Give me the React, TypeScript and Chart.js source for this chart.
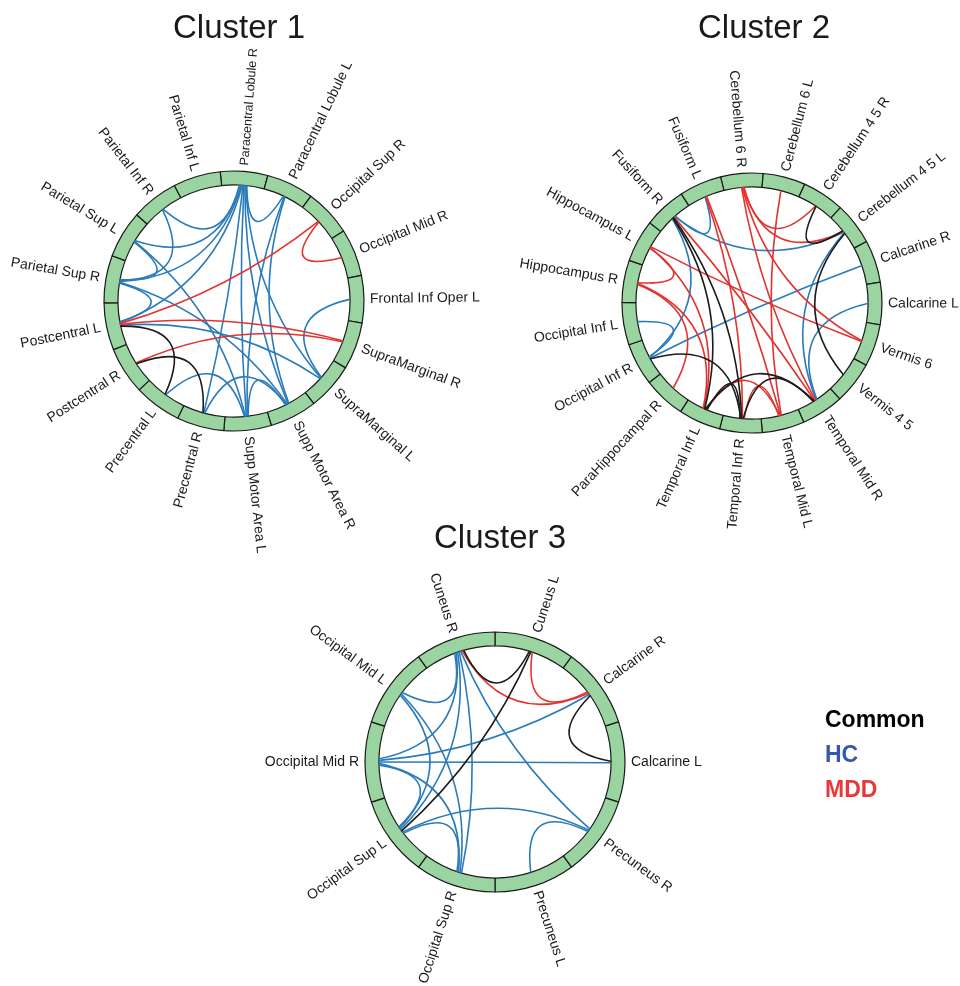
import React, { useEffect, useRef } from "react";
import { Chart, registerables } from "chart.js";

Chart.register(...registerables);

// ---------------- DATA ----------------
const cluster1Regions = [
  "Paracentral Lobule R", "Paracentral Lobule L", "Occipital Sup R", "Occipital Mid R",
  "Frontal Inf Oper L", "SupraMarginal R", "SupraMarginal L", "Supp Motor Area R",
  "Supp Motor Area L", "Precentral R", "Precentral L", "Postcentral R", "Postcentral L",
  "Parietal Sup R", "Parietal Sup L", "Parietal Inf R", "Parietal Inf L",
];
const cluster1Common = [
  ["Postcentral L", "Precentral L"],
  ["Postcentral R", "Precentral R"],
];
const cluster1HC = [
  ["Paracentral Lobule R", "Supp Motor Area L"],
  ["Paracentral Lobule R", "Supp Motor Area R"],
  ["Paracentral Lobule R", "Precentral R"],
  ["Paracentral Lobule R", "Parietal Sup R"],
  ["Paracentral Lobule R", "Parietal Sup L"],
  ["Paracentral Lobule R", "Parietal Inf R"],
  ["Paracentral Lobule R", "Postcentral L"],
  ["Paracentral Lobule R", "SupraMarginal L"],
  ["Paracentral Lobule R", "Paracentral Lobule L"],
  ["Paracentral Lobule L", "Supp Motor Area R"],
  ["Paracentral Lobule L", "Supp Motor Area L"],
  ["Parietal Inf R", "Parietal Sup R"],
  ["Parietal Sup L", "Parietal Sup R"],
  ["Parietal Sup L", "Supp Motor Area L"],
  ["Parietal Sup R", "Postcentral L"],
  ["Parietal Sup R", "Supp Motor Area R"],
  ["Postcentral L", "SupraMarginal L"],
  ["Frontal Inf Oper L", "SupraMarginal L"],
  ["Precentral L", "Supp Motor Area L"],
  ["Precentral R", "Supp Motor Area R"],
  ["Supp Motor Area L", "Supp Motor Area R"],
];
const cluster1MDD = [
  ["Occipital Sup R", "Occipital Mid R"],
  ["Occipital Sup R", "Postcentral L"],
  ["Postcentral L", "SupraMarginal R"],
  ["Postcentral R", "SupraMarginal R"],
];

const cluster2Regions = [
  "Cerebellum 6 R", "Cerebellum 6 L", "Cerebellum 4 5 R", "Cerebellum 4 5 L",
  "Calcarine R", "Calcarine L", "Vermis 6", "Vermis 4 5", "Temporal Mid R",
  "Temporal Mid L", "Temporal Inf R", "Temporal Inf L", "ParaHippocampal R",
  "Occipital Inf R", "Occipital Inf L", "Hippocampus R", "Hippocampus L",
  "Fusiform R", "Fusiform L",
];
const cluster2Common = [
  ["Fusiform R", "Temporal Inf R"],
  ["Fusiform R", "Temporal Inf L"],
  ["Cerebellum 4 5 R", "Cerebellum 4 5 L"],
  ["Cerebellum 4 5 L", "Vermis 4 5"],
  ["Occipital Inf R", "Temporal Inf R"],
  ["Temporal Inf L", "Temporal Mid R"],
  ["Temporal Inf R", "Temporal Mid R"],
  ["Temporal Inf L", "Temporal Inf R"],
];
const cluster2HC = [
  ["Fusiform R", "Fusiform L"],
  ["Fusiform R", "Cerebellum 4 5 L"],
  ["Occipital Inf R", "Calcarine R"],
  ["Occipital Inf L", "Occipital Inf R"],
  ["Fusiform R", "Occipital Inf R"],
  ["Cerebellum 4 5 L", "Temporal Mid R"],
  ["Calcarine L", "Temporal Mid R"],
];
const cluster2MDD = [
  ["Cerebellum 6 R", "Cerebellum 4 5 R"],
  ["Cerebellum 6 R", "Cerebellum 4 5 L"],
  ["Cerebellum 6 R", "Vermis 6"],
  ["Cerebellum 6 R", "Temporal Mid R"],
  ["Cerebellum 6 L", "Temporal Mid L"],
  ["Hippocampus L", "Vermis 6"],
  ["Fusiform R", "Temporal Mid R"],
  ["Fusiform L", "Temporal Inf R"],
  ["Fusiform L", "Temporal Mid L"],
  ["Hippocampus L", "Hippocampus R"],
  ["Hippocampus L", "Temporal Inf L"],
  ["Hippocampus R", "ParaHippocampal R"],
  ["Hippocampus R", "Temporal Inf L"],
  ["Temporal Inf L", "Temporal Mid L"],
  ["Temporal Inf R", "Temporal Mid L"],
];

const cluster3Regions = [
  "Cuneus L", "Calcarine R", "Calcarine L", "Precuneus R", "Precuneus L",
  "Occipital Sup R", "Occipital Sup L", "Occipital Mid R", "Occipital Mid L", "Cuneus R",
];
const cluster3Common = [
  ["Cuneus R", "Cuneus L"],
  ["Cuneus L", "Occipital Sup L"],
  ["Calcarine R", "Calcarine L"],
];
const cluster3HC = [
  ["Cuneus R", "Occipital Sup R"],
  ["Cuneus R", "Occipital Sup L"],
  ["Cuneus R", "Precuneus R"],
  ["Cuneus R", "Occipital Mid L"],
  ["Cuneus R", "Occipital Mid R"],
  ["Occipital Mid R", "Calcarine L"],
  ["Occipital Mid R", "Calcarine R"],
  ["Occipital Mid R", "Occipital Sup L"],
  ["Occipital Mid L", "Occipital Sup L"],
  ["Occipital Mid L", "Occipital Sup R"],
  ["Occipital Sup L", "Precuneus R"],
  ["Precuneus R", "Precuneus L"],
  ["Occipital Sup L", "Occipital Sup R"],
  ["Occipital Mid R", "Occipital Sup R"],
];
const cluster3MDD = [
  ["Cuneus R", "Calcarine R"],
  ["Cuneus L", "Calcarine R"],
];

const legendLabels = ["Common", "HC", "MDD"];

// ---------------- STYLE ----------------
const FONT = "'Liberation Sans', Arial, Helvetica, sans-serif";
const COLOR_COMMON = "#1c1c1c";
const COLOR_HC = "#2a7bbb";
const COLOR_MDD = "#e3322f";
const LEGEND_COLORS = ["#000000", "#3559a8", "#e8393a"];
const RING_FILL = "#99d4a1";
const PAGE_W = 960;
const PAGE_H = 986;
const SMALL_LABELS: Record<string, number> = { "Paracentral Lobule R": 12.5 };

type ClusterCfg = {
  title: string;
  regions: string[];
  common: string[][];
  hc: string[][];
  mdd: string[][];
  center: [number, number];
  rotation: number;
  titleOffset: [number, number];
  legend?: boolean;
};

const clusters: ClusterCfg[] = [
  { title: "Cluster 1", regions: cluster1Regions, common: cluster1Common, hc: cluster1HC, mdd: cluster1MDD,
    center: [234, 301], rotation: -6.1, titleOffset: [5, -263] },
  { title: "Cluster 2", regions: cluster2Regions, common: cluster2Common, hc: cluster2HC, mdd: cluster2MDD,
    center: [752, 303], rotation: -14, titleOffset: [12, -265] },
  { title: "Cluster 3", regions: cluster3Regions, common: cluster3Common, hc: cluster3HC, mdd: cluster3MDD,
    center: [495, 762], rotation: 0, titleOffset: [5, -214], legend: true },
];

function normAngle(a: number) {
  let x = a % (2 * Math.PI);
  if (x <= -Math.PI) x += 2 * Math.PI;
  if (x > Math.PI) x -= 2 * Math.PI;
  return x;
}

function makePlugin(cfg: ClusterCfg) {
  return {
    id: "chordLayer",
    afterDatasetsDraw(chart: any) {
      const ctx: CanvasRenderingContext2D = chart.ctx;
      const arcs = chart.getDatasetMeta(0).data as any[];
      const geo = arcs.map((a) =>
        a.getProps(["x", "y", "startAngle", "endAngle", "innerRadius", "outerRadius"], true)
      );
      const cx = geo[0].x;
      const cy = geo[0].y;
      const rIn = geo[0].innerRadius - 0.5;
      const rOut = geo[0].outerRadius;
      const mid = (i: number) => (geo[i].startAngle + geo[i].endAngle) / 2;
      const idx = (n: string) => cfg.regions.indexOf(n);

      const links: { a: number; b: number; color: string; pa: number; pb: number }[] = [];
      const groups: [string[][], string][] = [
        [cfg.hc, COLOR_HC],
        [cfg.mdd, COLOR_MDD],
        [cfg.common, COLOR_COMMON],
      ];
      groups.forEach(([list, color]) =>
        list.forEach(([s, t]) => links.push({ a: idx(s), b: idx(t), color, pa: 0, pb: 0 }))
      );

      // spread endpoints slightly within each segment
      const step = 0.022;
      cfg.regions.forEach((_, n) => {
        const ends: { k: number; side: "a" | "b"; delta: number }[] = [];
        links.forEach((l, k) => {
          if (l.a === n) ends.push({ k, side: "a", delta: ((mid(l.b) - mid(n)) % (2 * Math.PI) + 2 * Math.PI) % (2 * Math.PI) });
          if (l.b === n) ends.push({ k, side: "b", delta: ((mid(l.a) - mid(n)) % (2 * Math.PI) + 2 * Math.PI) % (2 * Math.PI) });
        });
        ends.sort((p, q) => p.delta - q.delta);
        const m = ends.length;
        ends.forEach((e, j) => {
          const frac = 0.5 + ((m - 1) / 2 - j) * step;
          const ang = geo[n].startAngle + frac * (geo[n].endAngle - geo[n].startAngle);
          if (e.side === "a") links[e.k].pa = ang;
          else links[e.k].pb = ang;
        });
      });

      ctx.save();
      ctx.lineWidth = 1.6;
      ctx.lineCap = "round";
      links.forEach((l) => {
        const ax = cx + rIn * Math.cos(l.pa);
        const ay = cy + rIn * Math.sin(l.pa);
        const bx = cx + rIn * Math.cos(l.pb);
        const by = cy + rIn * Math.sin(l.pb);
        const d = normAngle(l.pb - l.pa);
        const m = l.pa + d / 2;
        const h = 0.5 * rIn * (1 - Math.abs(d) / Math.PI);
        ctx.strokeStyle = l.color;
        ctx.beginPath();
        ctx.moveTo(ax, ay);
        ctx.quadraticCurveTo(cx + h * Math.cos(m), cy + h * Math.sin(m), bx, by);
        ctx.stroke();
      });
      ctx.restore();

      // labels
      ctx.save();
      ctx.fillStyle = "#1a1a1a";
      ctx.textBaseline = "middle";
      cfg.regions.forEach((name, i) => {
        const a = mid(i);
        const size = SMALL_LABELS[name] ?? 14;
        ctx.font = `${size}px ${FONT}`;
        ctx.save();
        ctx.translate(cx, cy);
        if (Math.cos(a) >= 0) {
          ctx.rotate(a);
          ctx.textAlign = "left";
          ctx.fillText(name, rOut + 6, 0);
        } else {
          ctx.rotate(a + Math.PI);
          ctx.textAlign = "right";
          ctx.fillText(name, -(rOut + 6), 0);
        }
        ctx.restore();
      });
      ctx.restore();

      // title
      ctx.save();
      ctx.fillStyle = "#1a1a1a";
      ctx.font = `33px ${FONT}`;
      ctx.textAlign = "center";
      ctx.textBaseline = "alphabetic";
      ctx.fillText(cfg.title, cx + cfg.titleOffset[0], cy + cfg.titleOffset[1]);
      ctx.restore();

      // legend
      if (cfg.legend) {
        ctx.save();
        ctx.font = `bold 23px ${FONT}`;
        ctx.textAlign = "left";
        ctx.textBaseline = "alphabetic";
        legendLabels.forEach((t, i) => {
          ctx.fillStyle = LEGEND_COLORS[i];
          ctx.fillText(t, cx + 330, cy - 35 + i * 35);
        });
        ctx.restore();
      }
    },
  };
}

function ClusterChart({ cfg }: { cfg: ClusterCfg }) {
  const ref = useRef<HTMLCanvasElement | null>(null);
  useEffect(() => {
    if (!ref.current) return;
    const [cx, cy] = cfg.center;
    const padLeft = Math.max(0, 2 * cx - PAGE_W);
    const padRight = Math.max(0, PAGE_W - 2 * cx);
    const padTop = Math.max(0, 2 * cy - PAGE_H);
    const padBottom = Math.max(0, PAGE_H - 2 * cy);
    const chart = new Chart(ref.current, {
      type: "doughnut",
      data: {
        labels: cfg.regions,
        datasets: [
          {
            data: cfg.regions.map(() => 1),
            backgroundColor: RING_FILL,
            borderColor: "#1a1a1a",
            borderWidth: 1.2,
            radius: 130,
            cutout: "89.3%",
            rotation: cfg.rotation,
          } as any,
        ],
      },
      options: {
        responsive: false,
        animation: false,
        events: [],
        layout: { padding: { left: padLeft, right: padRight, top: padTop, bottom: padBottom } },
        plugins: { legend: { display: false }, tooltip: { enabled: false }, title: { display: false } },
      } as any,
      plugins: [makePlugin(cfg)],
    });
    return () => chart.destroy();
  }, [cfg]);
  return (
    <canvas
      ref={ref}
      width={PAGE_W}
      height={PAGE_H}
      style={{ position: "absolute", left: 0, top: 0, width: PAGE_W, height: PAGE_H }}
    />
  );
}

export default function App() {
  return (
    <div
      style={{
        position: "absolute",
        left: 0,
        top: 0,
        width: PAGE_W,
        height: PAGE_H,
        overflow: "hidden",
        background: "#ffffff",
      }}
    >
      {clusters.map((c) => (
        <ClusterChart key={c.title} cfg={c} />
      ))}
    </div>
  );
}
